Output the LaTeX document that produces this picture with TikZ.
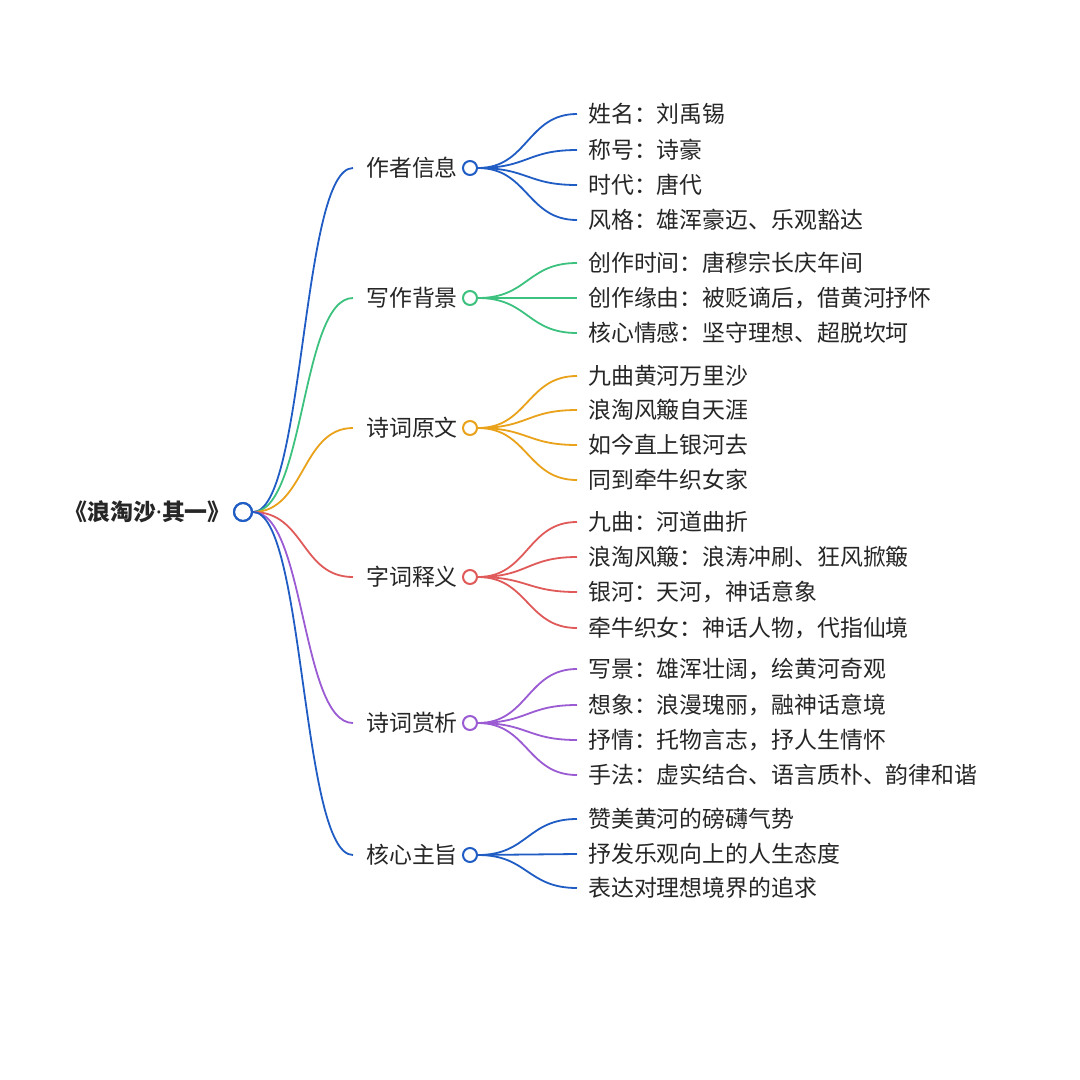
\documentclass[tikz,border=0pt]{standalone}
\usepackage{fontspec}
\newfontfamily\cjk{Noto Sans CJK SC}
\newfontfamily\latn{Noto Sans}
\definecolor{cblue}{HTML}{1F5CC4}
\definecolor{cgreen}{HTML}{3CC27E}
\definecolor{corange}{HTML}{E9A21A}
\definecolor{cred}{HTML}{E05A5A}
\definecolor{cpurple}{HTML}{9A5BD3}
\definecolor{ctext}{HTML}{262626}
\tikzset{
  txt/.style={font=\cjk\fontsize{22.9}{26}\selectfont, text=ctext, anchor=west, inner ysep=0pt},
  cat/.style={txt, inner xsep=13pt},
  leaf/.style={txt, inner xsep=11pt},
  dot/.style={circle, draw, line width=2pt, fill=white, minimum size=14pt, inner sep=0pt},
  rootdot/.style={circle, draw=cblue, line width=2pt, fill=white, minimum size=18pt, inner sep=0pt},
  br/.style={line width=1.8pt},
}
\begin{document}
\begin{tikzpicture}[x=1pt,y=-1pt]
\useasboundingbox[fill=white] (0,0) rectangle (1080,1080);
\node[font=\cjk\bfseries\fontsize{22.9}{26}\selectfont, text=ctext, anchor=east, inner sep=0pt] (root) at (231,512) {《浪淘沙{\latn\bfseries ·}其一》};
\node[rootdot] (r) at (243,512) {};

% categories
\node[cat] (c1) at (353,168) {作者信息};
\node[cat] (c2) at (353,298) {写作背景};
\node[cat] (c3) at (353,428) {诗词原文};
\node[cat] (c4) at (353,577) {字词释义};
\node[cat] (c5) at (353,723) {诗词赏析};
\node[cat] (c6) at (353,855) {核心主旨};

\foreach \i/\c in {1/cblue,2/cgreen,3/corange,4/cred,5/cpurple,6/cblue}{
  \draw[br,\c] (r.east) .. controls +(52,0) and +(-52,0) .. (c\i.west);
}
\draw[line width=2pt, cblue] (r) circle (9pt);

% leaves
\node[leaf] (l11) at (577,114) {姓名：刘禹锡};
\node[leaf] (l12) at (577,150) {称号：诗豪};
\node[leaf] (l13) at (577,185) {时代：唐代};
\node[leaf] (l14) at (577,220) {风格：雄浑豪迈、乐观豁达};

\node[leaf] (l21) at (577,263) {创作时间：唐穆宗长庆年间};
\node[leaf] (l22) at (577,298) {创作缘由：被贬谪后，借黄河抒怀};
\node[leaf] (l23) at (577,333) {核心情感：坚守理想、超脱坎坷};

\node[leaf] (l31) at (577,376) {九曲黄河万里沙};
\node[leaf] (l32) at (577,410) {浪淘风簸自天涯};
\node[leaf] (l33) at (577,445) {如今直上银河去};
\node[leaf] (l34) at (577,480) {同到牵牛织女家};

\node[leaf] (l41) at (577,522) {九曲：河道曲折};
\node[leaf] (l42) at (577,557) {浪淘风簸：浪涛冲刷、狂风掀簸};
\node[leaf] (l43) at (577,592) {银河：天河，神话意象};
\node[leaf] (l44) at (577,628) {牵牛织女：神话人物，代指仙境};

\node[leaf] (l51) at (577,669) {写景：雄浑壮阔，绘黄河奇观};
\node[leaf] (l52) at (577,705) {想象：浪漫瑰丽，融神话意境};
\node[leaf] (l53) at (577,740) {抒情：托物言志，抒人生情怀};
\node[leaf] (l54) at (577,775) {手法：虚实结合、语言质朴、韵律和谐};

\node[leaf] (l61) at (577,819) {赞美黄河的磅礴气势};
\node[leaf] (l62) at (577,854) {抒发乐观向上的人生态度};
\node[leaf] (l63) at (577,888) {表达对理想境界的追求};

% category dots
\node[dot,draw=cblue] (d1) at (470,168) {};
\node[dot,draw=cgreen] (d2) at (470,298) {};
\node[dot,draw=corange] (d3) at (470,428) {};
\node[dot,draw=cred] (d4) at (470,577) {};
\node[dot,draw=cpurple] (d5) at (470,723) {};
\node[dot,draw=cblue] (d6) at (470,855) {};

\foreach \l in {1,2,3,4}{\draw[br,cblue] (d1.east) .. controls +(50,0) and +(-50,0) .. (l1\l.west);}
\foreach \l in {1,2,3}{\draw[br,cgreen] (d2.east) .. controls +(50,0) and +(-50,0) .. (l2\l.west);}
\foreach \l in {1,2,3,4}{\draw[br,corange] (d3.east) .. controls +(50,0) and +(-50,0) .. (l3\l.west);}
\foreach \l in {1,2,3,4}{\draw[br,cred] (d4.east) .. controls +(50,0) and +(-50,0) .. (l4\l.west);}
\foreach \l in {1,2,3,4}{\draw[br,cpurple] (d5.east) .. controls +(50,0) and +(-50,0) .. (l5\l.west);}
\foreach \l in {1,2,3}{\draw[br,cblue] (d6.east) .. controls +(50,0) and +(-50,0) .. (l6\l.west);}
\end{tikzpicture}
\end{document}
